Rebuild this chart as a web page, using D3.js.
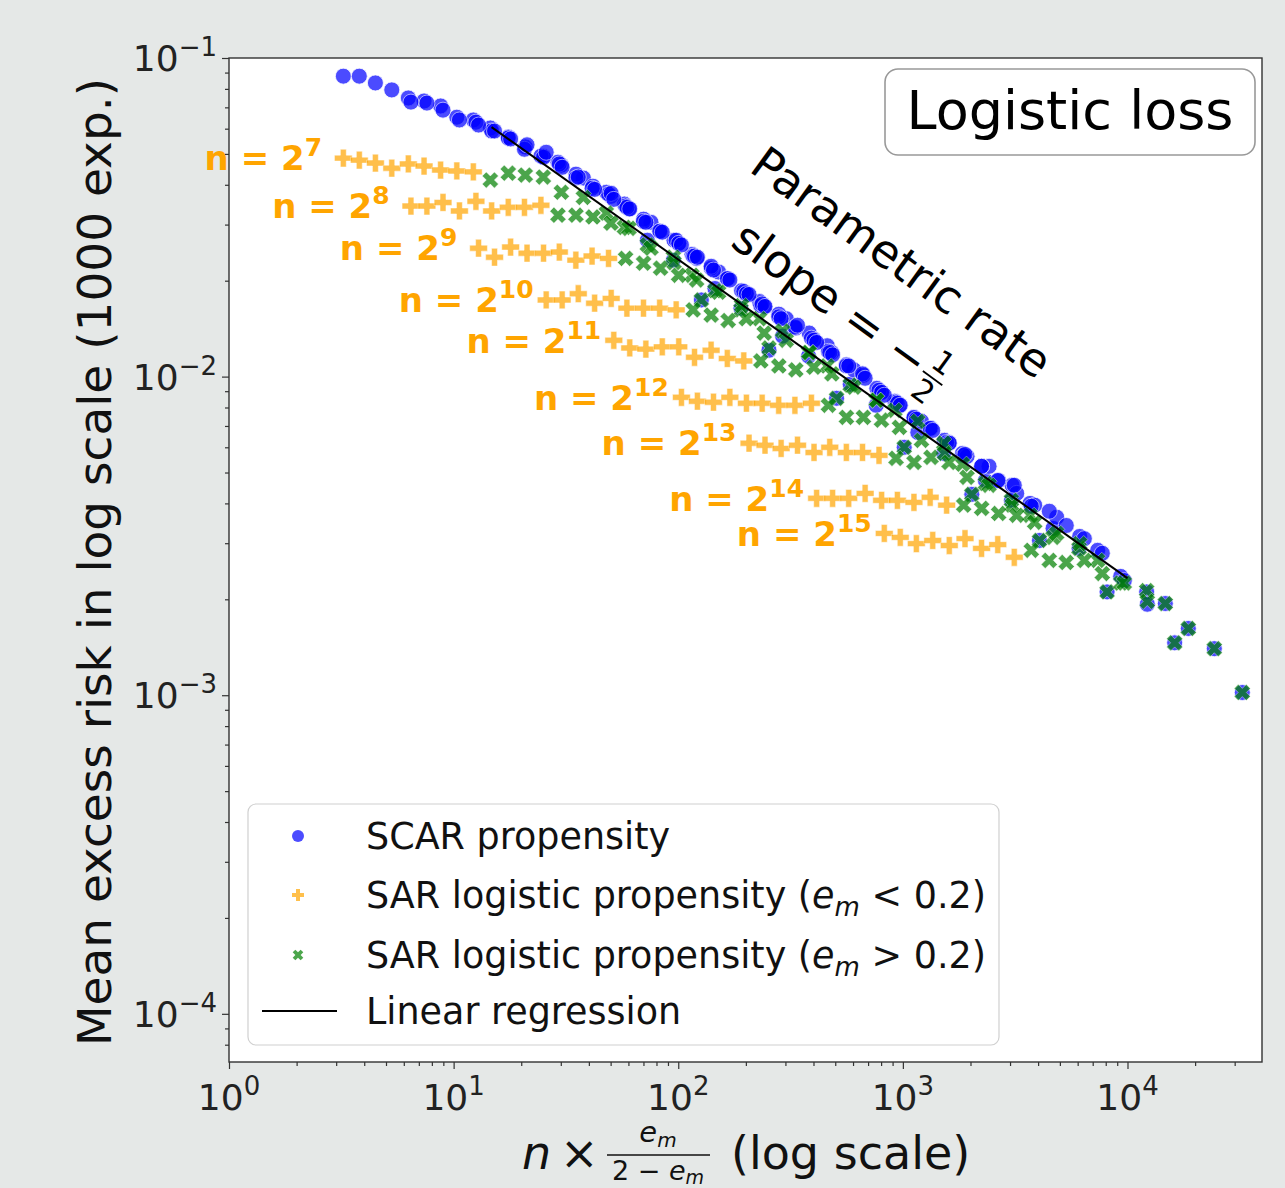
<!DOCTYPE html>
<html>
<head>
<meta charset="utf-8">
<script src="https://cdn.jsdelivr.net/npm/d3@7"></script>
<style>
  body { margin: 0; background: #e5e8e7; }
  svg { display: block; }
  text { font-family: "DejaVu Sans", sans-serif; }
</style>
</head>
<body>
<svg id="chart" width="1285" height="1188"></svg>
<script>
// sample sizes n = 2^k
var nExp = [7, 8, 9, 10, 11, 12, 13, 14, 15];

// mean propensities e_m used for every n (below / above 0.2)
var emLow = [0.0492, 0.0577, 0.0677, 0.0796, 0.0936, 0.1091, 0.1280, 0.1494, 0.1745];
var emHigh = [0.2044, 0.2408, 0.2802, 0.3278, 0.3815, 0.4561, 0.5442, 0.6203, 0.7254, 0.8525, 0.995];

// SAR logistic propensity, e_m < 0.2 (one row per n)
var riskLow = [
    [0.0485, 0.0478, 0.0468, 0.0451, 0.0465, 0.0458, 0.0445, 0.0442, 0.0439],
    [0.0343, 0.0343, 0.0352, 0.0331, 0.0355, 0.0331, 0.0340, 0.0340, 0.0345],
    [0.0253, 0.0237, 0.0255, 0.0244, 0.0244, 0.0246, 0.0232, 0.0239, 0.0235],
    [0.0174, 0.0174, 0.0182, 0.0170, 0.0176, 0.0164, 0.0164, 0.0164, 0.0162],
    [0.0130, 0.0123, 0.0122, 0.0124, 0.0124, 0.0115, 0.0121, 0.0114, 0.0112],
    [0.00861, 0.00837, 0.00831, 0.00861, 0.00825, 0.00825, 0.00813, 0.00813, 0.00825],
    [0.00618, 0.00609, 0.00595, 0.00609, 0.00578, 0.00600, 0.00578, 0.00578, 0.00566],
    [0.00415, 0.00415, 0.00415, 0.00430, 0.00409, 0.00409, 0.00403, 0.00418, 0.00395],
    [0.00322, 0.00313, 0.00299, 0.00306, 0.00295, 0.00310, 0.00289, 0.00297, 0.00271]
];

// SAR logistic propensity, e_m > 0.2
var riskHigh = [
    [0.0414, 0.0435, 0.0429, 0.0423, 0.0379, 0.0365, 0.0326, 0.0294, 0.0259, 0.0237, 0.0174],
    [0.0321, 0.0321, 0.0317, 0.0303, 0.0292, 0.0253, 0.0228, 0.0208, 0.0186, 0.0162, 0.0123],
    [0.0235, 0.0227, 0.0219, 0.0208, 0.0201, 0.0184, 0.0167, 0.0152, 0.0139, 0.0119, 0.00855],
    [0.0162, 0.0156, 0.0150, 0.0152, 0.0137, 0.0130, 0.0119, 0.0108, 0.00940, 0.00843, 0.00600],
    [0.0112, 0.0108, 0.0105, 0.0107, 0.0102, 0.00926, 0.00843, 0.00784, 0.00724, 0.00618, 0.00427],
    [0.00813, 0.00745, 0.00745, 0.00730, 0.00693, 0.00631, 0.00574, 0.00531, 0.00462, 0.00409, 0.00306],
    [0.00554, 0.00538, 0.00558, 0.00538, 0.00483, 0.00456, 0.00395, 0.00367, 0.00313, 0.00289, 0.00211],
    [0.00395, 0.00386, 0.00372, 0.00367, 0.00349, 0.00322, 0.00299, 0.00265, 0.00225, 0.00213, 0.00146],
    [0.00285, 0.00265, 0.00261, 0.00265, 0.00241, 0.00225, 0.00197, 0.00194, 0.00162, 0.00140, 0.00102]
];

// SCAR propensity, same e_m grid (emLow then emHigh)
var riskScar = [
    [0.0877, 0.0877, 0.0835, 0.0794, 0.0749, 0.0733, 0.0707, 0.0652, 0.0639, 0.0603, 0.0565, 0.0526, 0.0492, 0.0461, 0.0420, 0.0379, 0.0348, 0.0268, 0.0232, 0.0174],
    [0.0727, 0.0722, 0.0686, 0.0639, 0.0629, 0.0590, 0.0561, 0.0517, 0.0492, 0.0471, 0.0432, 0.0396, 0.0368, 0.0336, 0.0305, 0.0268, 0.0242, 0.0189, 0.0164, 0.0121],
    [0.0616, 0.0590, 0.0557, 0.0534, 0.0488, 0.0465, 0.0420, 0.0390, 0.0374, 0.0343, 0.0312, 0.0286, 0.0262, 0.0235, 0.0213, 0.0186, 0.0172, 0.0134, 0.0116, 0.00855],
    [0.0506, 0.0454, 0.0423, 0.0387, 0.0376, 0.0340, 0.0307, 0.0286, 0.0268, 0.0239, 0.0219, 0.0203, 0.0182, 0.0166, 0.0152, 0.0137, 0.0125, 0.00947, 0.00813, 0.00600],
    [0.0360, 0.0336, 0.0305, 0.0284, 0.0262, 0.0239, 0.0222, 0.0203, 0.0185, 0.0167, 0.0157, 0.0142, 0.0131, 0.0119, 0.0105, 0.00919, 0.00837, 0.00668, 0.00574, 0.00427],
    [0.0259, 0.0237, 0.0216, 0.0201, 0.0182, 0.0169, 0.0154, 0.0143, 0.0132, 0.0120, 0.0109, 0.0101, 0.00892, 0.00813, 0.00724, 0.00631, 0.00574, 0.00472, 0.00409, 0.00306],
    [0.0181, 0.0166, 0.0152, 0.0145, 0.0130, 0.0119, 0.0108, 0.0102, 0.00906, 0.00831, 0.00740, 0.00688, 0.00621, 0.00562, 0.00523, 0.00456, 0.00400, 0.00334, 0.00289, 0.00211],
    [0.0128, 0.0117, 0.0108, 0.00988, 0.00892, 0.00825, 0.00745, 0.00688, 0.00621, 0.00566, 0.00523, 0.00472, 0.00430, 0.00395, 0.00362, 0.00315, 0.00285, 0.00236, 0.00211, 0.00146],
    [0.00874, 0.00813, 0.00735, 0.00678, 0.00618, 0.00570, 0.00523, 0.00472, 0.00456, 0.00392, 0.00378, 0.00341, 0.00310, 0.00279, 0.00229, 0.00193, 0.00194, 0.00162, 0.00140, 0.00102]
];

// linear regression end points
var regX = [14.75, 10000];
var regY = [0.0607, 0.00233];

var xTicks = [1, 10, 100, 1000, 10000];
var yTicks = [1e-4, 1e-3, 1e-2, 1e-1];
var xTickExp = ["0", "1", "2", "3", "4"];
var yTickExp = ["\u22124", "\u22123", "\u22122", "\u22121"];

var legendLabels = ["SCAR propensity", "SAR logistic propensity (", "SAR logistic propensity (", "Linear regression"];

var plot = {left: 229, right: 1262, top: 58, bottom: 1062};

var svg = d3.select("#chart");

var xScale = d3.scaleLog()
    .domain([1, 39700])
    .range([plot.left, plot.right]);

var yScale = d3.scaleLog()
    .domain([7.06e-5, 0.1])
    .range([plot.bottom, plot.top]);

function ratio(n, e) { return n * e / (2 - e); }

// plot background
svg.append("rect")
    .attr("x", plot.left).attr("y", plot.top)
    .attr("width", plot.right - plot.left)
    .attr("height", plot.bottom - plot.top)
    .attr("fill", "white");

// build point lists
var scarPts = [], lowPts = [], highPts = [];
var emAll = emLow.concat(emHigh);
nExp.forEach(function(k, g) {
    var n = Math.pow(2, k);
    emAll.forEach(function(e, i) { scarPts.push([ratio(n, e), riskScar[g][i]]); });
    emLow.forEach(function(e, i) { lowPts.push([ratio(n, e), riskLow[g][i]]); });
    emHigh.forEach(function(e, i) { highPts.push([ratio(n, e), riskHigh[g][i]]); });
});

var plusPath = d3.symbol().type(d3.symbolCross).size(175)();
var xPath = d3.symbol().type(d3.symbolCross).size(165)();

// SCAR points
svg.append("g").selectAll("circle")
    .data(scarPts)
    .enter()
    .append("circle")
    .attr("cx", function(d) { return xScale(d[0]); })
    .attr("cy", function(d) { return yScale(d[1]); })
    .attr("r", 8)
    .attr("fill", "#0000ff")
    .attr("stroke", "white")
    .attr("stroke-width", 0.8)
    .attr("opacity", 0.7);

// SAR e_m < 0.2
svg.append("g").selectAll("path")
    .data(lowPts)
    .enter()
    .append("path")
    .attr("d", plusPath)
    .attr("transform", function(d) { return "translate(" + xScale(d[0]) + "," + yScale(d[1]) + ")"; })
    .attr("fill", "#ffa500")
    .attr("stroke", "white")
    .attr("stroke-width", 0.5)
    .attr("opacity", 0.7);

// SAR e_m > 0.2
svg.append("g").selectAll("path")
    .data(highPts)
    .enter()
    .append("path")
    .attr("d", xPath)
    .attr("transform", function(d) { return "translate(" + xScale(d[0]) + "," + yScale(d[1]) + ") rotate(45)"; })
    .attr("fill", "#008000")
    .attr("stroke", "white")
    .attr("stroke-width", 0.5)
    .attr("opacity", 0.7);

// regression line
svg.append("line")
    .attr("x1", xScale(regX[0])).attr("y1", yScale(regY[0]))
    .attr("x2", xScale(regX[1])).attr("y2", yScale(regY[1]))
    .attr("stroke", "black")
    .attr("stroke-width", 2);

// n = 2^k labels, centred left of each orange row
nExp.forEach(function(k, g) {
    var n = Math.pow(2, k);
    var t = svg.append("text")
        .attr("x", xScale(ratio(n, emLow[0])) - 80)
        .attr("y", yScale(riskLow[g][0]))
        .attr("dy", "0.36em")
        .attr("text-anchor", "middle")
        .attr("fill", "#ffa500")
        .style("font-weight", "bold")
        .style("font-size", "34px");
    t.append("tspan").text("n = 2");
    t.append("tspan").attr("dy", -14).style("font-size", "25px").text(k);
});

// axes: major and minor ticks
var minorX = [];
for (var p = 0; p < 5; p++) for (var m = 2; m < 10; m++) if (m * Math.pow(10, p) < 39700) minorX.push(m * Math.pow(10, p));
var minorY = [];
for (var q = -5; q < -1; q++) for (var m2 = 2; m2 < 10; m2++) {
    var v = m2 * Math.pow(10, q);
    if (v > 7.06e-5 && v < 0.1) minorY.push(v);
}

function tickStyle(g) {
    g.select(".domain").remove();
    g.selectAll("line").attr("stroke", "#333").attr("stroke-width", 1.2);
}

svg.append("g")
    .attr("transform", "translate(0," + plot.bottom + ")")
    .call(d3.axisBottom(xScale).tickValues(xTicks).tickSize(7).tickFormat(""))
    .call(tickStyle);
svg.append("g")
    .attr("transform", "translate(0," + plot.bottom + ")")
    .call(d3.axisBottom(xScale).tickValues(minorX).tickSize(4).tickFormat(""))
    .call(tickStyle);
svg.append("g")
    .attr("transform", "translate(" + plot.left + ",0)")
    .call(d3.axisLeft(yScale).tickValues(yTicks).tickSize(7).tickFormat(""))
    .call(tickStyle);
svg.append("g")
    .attr("transform", "translate(" + plot.left + ",0)")
    .call(d3.axisLeft(yScale).tickValues(minorY).tickSize(4).tickFormat(""))
    .call(tickStyle);

// frame
svg.append("rect")
    .attr("x", plot.left).attr("y", plot.top)
    .attr("width", plot.right - plot.left)
    .attr("height", plot.bottom - plot.top)
    .attr("fill", "none")
    .attr("stroke", "#333")
    .attr("stroke-width", 1.4);

// tick labels 10^k
xTicks.forEach(function(v, i) {
    var t = svg.append("text")
        .attr("x", xScale(v) + 0)
        .attr("y", plot.bottom + 48)
        .attr("text-anchor", "middle")
        .attr("fill", "#222")
        .style("font-size", "36px");
    t.append("tspan").text("10");
    t.append("tspan").attr("dy", -15).style("font-size", "26px").text(xTickExp[i]);
});
yTicks.forEach(function(v, i) {
    var t = svg.append("text")
        .attr("x", plot.left - 12)
        .attr("y", yScale(v) + 13)
        .attr("text-anchor", "end")
        .attr("fill", "#222")
        .style("font-size", "36px");
    t.append("tspan").text("10");
    t.append("tspan").attr("dy", -15).style("font-size", "26px").text(yTickExp[i]);
});

// axis titles
svg.append("text")
    .attr("transform", "translate(111,562) rotate(-90)")
    .attr("text-anchor", "middle")
    .attr("fill", "#111")
    .style("font-size", "47px")
    .text("Mean excess risk in log scale (1000 exp.)");

var xl = svg.append("g").attr("fill", "#111");
xl.append("text").attr("x", 522).attr("y", 1169)
    .style("font-size", "46px").style("font-style", "italic").text("n");
xl.append("text").attr("x", 560).attr("y", 1169)
    .style("font-size", "46px").text("\u00d7");
var num = xl.append("text").attr("x", 658).attr("y", 1142)
    .attr("text-anchor", "middle").style("font-size", "29px");
num.append("tspan").style("font-style", "italic").text("e");
num.append("tspan").attr("dy", 5).style("font-size", "20px").style("font-style", "italic").text("m");
xl.append("line").attr("x1", 607).attr("x2", 710).attr("y1", 1155).attr("y2", 1155)
    .attr("stroke", "#111").attr("stroke-width", 1.6);
var den = xl.append("text").attr("x", 658).attr("y", 1180)
    .attr("text-anchor", "middle").style("font-size", "27px");
den.append("tspan").text("2 \u2212 ");
den.append("tspan").style("font-style", "italic").text("e");
den.append("tspan").attr("dy", 4).style("font-size", "19px").style("font-style", "italic").text("m");
xl.append("text").attr("x", 731).attr("y", 1169)
    .style("font-size", "46px").text("(log scale)");

// title box
svg.append("rect")
    .attr("x", 885).attr("y", 69).attr("width", 370).attr("height", 86)
    .attr("rx", 13)
    .attr("fill", "white")
    .attr("stroke", "#999")
    .attr("stroke-width", 1.6);
svg.append("text")
    .attr("x", 1070).attr("y", 129)
    .attr("text-anchor", "middle")
    .attr("fill", "black")
    .style("font-size", "54px")
    .text("Logistic loss");

// slope annotation
var ann = svg.append("g").attr("transform", "translate(902,262) rotate(36)");
ann.append("text")
    .attr("x", 0).attr("y", 0)
    .attr("dy", "0.36em")
    .attr("text-anchor", "middle")
    .attr("fill", "black")
    .style("font-size", "46px")
    .text("Parametric rate");
ann.append("text")
    .attr("x", -150).attr("y", 88)
    .attr("fill", "black")
    .style("font-size", "46px")
    .text("slope = \u2212");
ann.append("text").attr("x", 93).attr("y", 68).attr("text-anchor", "middle")
    .style("font-size", "31px").text("1");
ann.append("line").attr("x1", 81).attr("x2", 105).attr("y1", 76).attr("y2", 76)
    .attr("stroke", "black").attr("stroke-width", 1.8);
ann.append("text").attr("x", 93).attr("y", 103).attr("text-anchor", "middle")
    .style("font-size", "31px").text("2");

// legend
var leg = svg.append("g");
leg.append("rect")
    .attr("x", 248).attr("y", 804).attr("width", 751).attr("height", 241)
    .attr("rx", 8)
    .attr("fill", "white")
    .attr("fill-opacity", 0.85)
    .attr("stroke", "#d0d0d0")
    .attr("stroke-width", 1.2);
var rowY = [836, 895, 955, 1011];
leg.append("circle").attr("cx", 298).attr("cy", rowY[0]).attr("r", 6)
    .attr("fill", "#0000ff").attr("opacity", 0.7);
leg.append("path").attr("d", d3.symbol().type(d3.symbolCross).size(80)())
    .attr("transform", "translate(298," + rowY[1] + ")")
    .attr("fill", "#ffa500").attr("opacity", 0.7);
leg.append("path").attr("d", d3.symbol().type(d3.symbolCross).size(70)())
    .attr("transform", "translate(298," + rowY[2] + ") rotate(45)")
    .attr("fill", "#008000").attr("opacity", 0.7);
leg.append("line").attr("x1", 262).attr("x2", 337).attr("y1", rowY[3]).attr("y2", rowY[3])
    .attr("stroke", "black").attr("stroke-width", 2);

var ops = [null, " < 0.2)", " > 0.2)", null];
legendLabels.forEach(function(s, i) {
    var t = leg.append("text")
        .attr("x", 366)
        .attr("y", rowY[i])
        .attr("dy", "0.36em")
        .attr("fill", "#111")
        .style("font-size", "36.5px");
    t.append("tspan").text(s);
    if (ops[i]) {
        t.append("tspan").style("font-style", "italic").text("e");
        t.append("tspan").attr("dy", 8).style("font-size", "26px").style("font-style", "italic").text("m");
        t.append("tspan").attr("dy", -8).text(ops[i]);
    }
});
</script>
</body>
</html>
